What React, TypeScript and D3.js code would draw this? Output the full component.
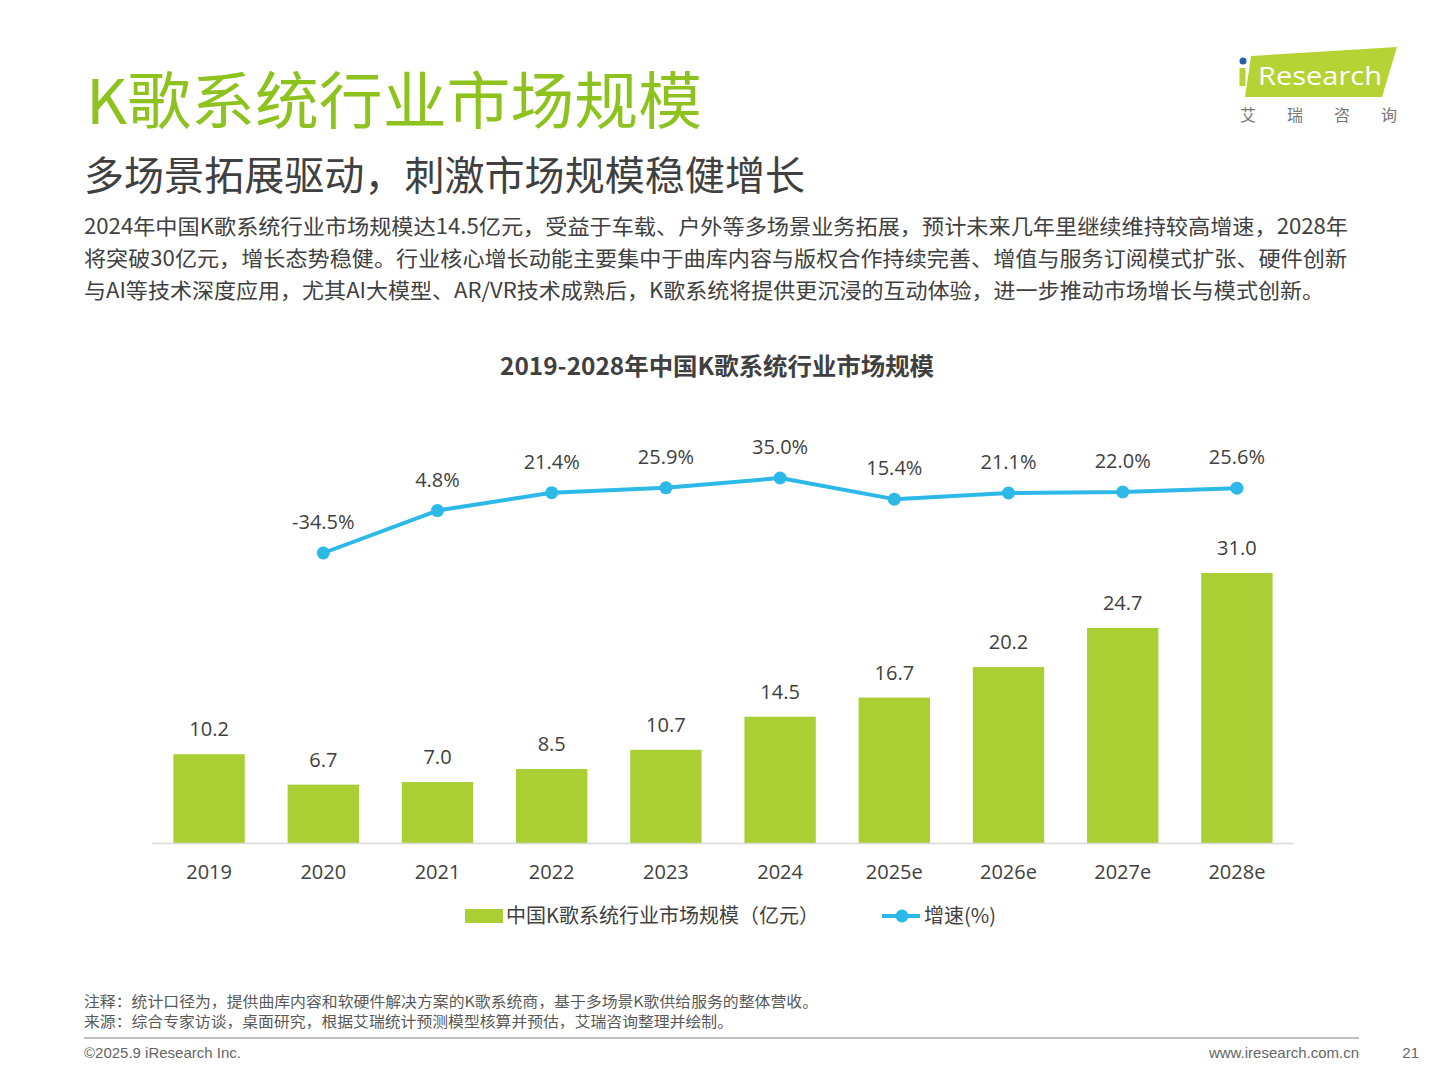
import React from 'react';
import * as d3 from 'd3';

const years = ['2019', '2020', '2021', '2022', '2023', '2024', '2025e', '2026e', '2027e', '2028e'];
const marketSize = [10.2, 6.7, 7.0, 8.5, 10.7, 14.5, 16.7, 20.2, 24.7, 31.0];
const growth = [null, -34.5, 4.8, 21.4, 25.9, 35.0, 15.4, 21.1, 22.0, 25.6];

const paragraph = [
  '2024年中国K歌系统行业市场规模达14.5亿元，受益于车载、户外等多场景业务拓展，预计未来几年里继续维持较高增速，2028年',
  '将突破30亿元，增长态势稳健。行业核心增长动能主要集中于曲库内容与版权合作持续完善、增值与服务订阅模式扩张、硬件创新',
  '与AI等技术深度应用，尤其AI大模型、AR/VR技术成熟后，K歌系统将提供更沉浸的互动体验，进一步推动市场增长与模式创新。',
];
const notes = [
  '注释：统计口径为，提供曲库内容和软硬件解决方案的K歌系统商，基于多场景K歌供给服务的整体营收。',
  '来源：综合专家访谈，桌面研究，根据艾瑞统计预测模型核算并预估，艾瑞咨询整理并绘制。',
];

const GREEN = '#AACF35';
const BLUE = '#2CB9E8';
const TEXT = '#404040';
const CJK = '"Noto Sans CJK SC", "Noto Sans", sans-serif';
const NUM = '"Open Sans", "Noto Sans CJK SC", sans-serif';

export default function App() {
  const x = d3.scaleBand().domain(years).range([152, 1294]).paddingInner(0.375).paddingOuter(0.1875);
  const y = d3.scaleLinear().domain([0, 31]).range([843, 573]);
  const yg = d3.scaleLinear().domain([-34.5, 35]).range([553, 478]);

  const pts = years
    .map((yr, i) => ({ yr, v: growth[i] }))
    .filter((d) => d.v !== null) as { yr: string; v: number }[];
  const line = d3
    .line<{ yr: string; v: number }>()
    .x((d) => (x(d.yr) as number) + x.bandwidth() / 2)
    .y((d) => yg(d.v));

  return (
    <svg width={1440} height={1080} style={{ display: 'block', position: 'absolute', left: 0, top: 0 }}>
      <rect width={1440} height={1080} fill="#fff" />
      {/* header */}
      <text x={86} y={124} fontFamily={CJK} fontSize={62} fill="#8DC21F" textLength={616} lengthAdjust="spacingAndGlyphs">
        K歌系统行业市场规模
      </text>
      <text x={84} y={190} fontFamily={CJK} fontSize={40} fill={TEXT} textLength={721} lengthAdjust="spacingAndGlyphs">
        多场景拓展驱动，刺激市场规模稳健增长
      </text>
      {paragraph.map((t, i) => (
        <text
          key={i}
          x={84}
          y={234 + i * 32}
          fontFamily={CJK}
          fontSize={21}
          fill={TEXT}
          textLength={[1264, 1263, 1240][i]}
          lengthAdjust="spacingAndGlyphs"
        >
          {t}
        </text>
      ))}

      {/* logo */}
      <polygon points="1251,56 1397,47 1382,97 1245,97" fill="#B5D334" />
      <circle cx={1243} cy={61} r={3.5} fill="#2A5DA8" />
      <rect x={1239.5} y={68} width={6} height={18} fill="#B5D334" />
      <text x={1258} y={85} fontFamily='"Open Sans", sans-serif' fontSize={26} fill="#fff" textLength={124} lengthAdjust="spacingAndGlyphs">
        Research
      </text>
      {['艾', '瑞', '咨', '询'].map((c, i) => (
        <text key={c} x={1248 + i * 47} y={121} textAnchor="middle" fontFamily={CJK} fontSize={16} fill="#777">
          {c}
        </text>
      ))}

      {/* chart title */}
      <text x={717} y={375} textAnchor="middle" fontFamily={CJK} fontSize={23.5} fontWeight="bold" fill={TEXT} textLength={434} lengthAdjust="spacingAndGlyphs">
        2019-2028年中国K歌系统行业市场规模
      </text>

      {/* bars */}
      {years.map((yr, i) => (
        <g key={yr}>
          <rect x={x(yr)} y={y(marketSize[i])} width={x.bandwidth()} height={843 - y(marketSize[i])} fill={GREEN} />
          <text
            x={(x(yr) as number) + x.bandwidth() / 2}
            y={y(marketSize[i]) - 18}
            textAnchor="middle"
            fontFamily={NUM}
            fontSize={20}
            fill={TEXT}
          >
            {marketSize[i].toFixed(1)}
          </text>
          <text x={(x(yr) as number) + x.bandwidth() / 2} y={879} textAnchor="middle" fontFamily={NUM} fontSize={20} fill={TEXT}>
            {yr}
          </text>
        </g>
      ))}
      <line x1={152} x2={1294} y1={843.5} y2={843.5} stroke="#D9D9D9" strokeWidth={1.5} />

      {/* growth line */}
      <path d={line(pts) as string} fill="none" stroke={BLUE} strokeWidth={4} strokeLinejoin="round" />
      {pts.map((d) => (
        <g key={d.yr}>
          <circle cx={(x(d.yr) as number) + x.bandwidth() / 2} cy={yg(d.v)} r={6.5} fill={BLUE} />
          <text
            x={(x(d.yr) as number) + x.bandwidth() / 2}
            y={yg(d.v) - 24}
            textAnchor="middle"
            fontFamily={NUM}
            fontSize={20}
            fill={TEXT}
          >
            {d.v.toFixed(1) + '%'}
          </text>
        </g>
      ))}

      {/* legend */}
      <rect x={465} y={909} width={38} height={14} fill={GREEN} />
      <text x={506} y={923} fontFamily={CJK} fontSize={20} fill={TEXT}>
        中国K歌系统行业市场规模（亿元）
      </text>
      <line x1={882} x2={920} y1={916} y2={916} stroke={BLUE} strokeWidth={4} />
      <circle cx={902} cy={916} r={6.5} fill={BLUE} />
      <text x={924} y={923} fontFamily={CJK} fontSize={20} fill={TEXT}>
        增速(%)
      </text>

      {/* footer */}
      {notes.map((t, i) => (
        <text
          key={i}
          x={84}
          y={1007 + i * 20}
          fontFamily={CJK}
          fontSize={15}
          fill="#595959"
          textLength={[734, 649][i]}
          lengthAdjust="spacingAndGlyphs"
        >
          {t}
        </text>
      ))}
      <line x1={84} x2={1359} y1={1038} y2={1038} stroke="#BFBFBF" strokeWidth={2} />
      <text x={84} y={1058} fontFamily='"Liberation Sans", Arial, sans-serif' fontSize={15} fill="#666">
        ©2025.9 iResearch Inc.
      </text>
      <text x={1359} y={1058} textAnchor="end" fontFamily='"Liberation Sans", Arial, sans-serif' fontSize={15} fill="#666">
        www.iresearch.com.cn
      </text>
      <text x={1419} y={1058} textAnchor="end" fontFamily='"Liberation Sans", Arial, sans-serif' fontSize={15} fill="#666">
        21
      </text>
    </svg>
  );
}
